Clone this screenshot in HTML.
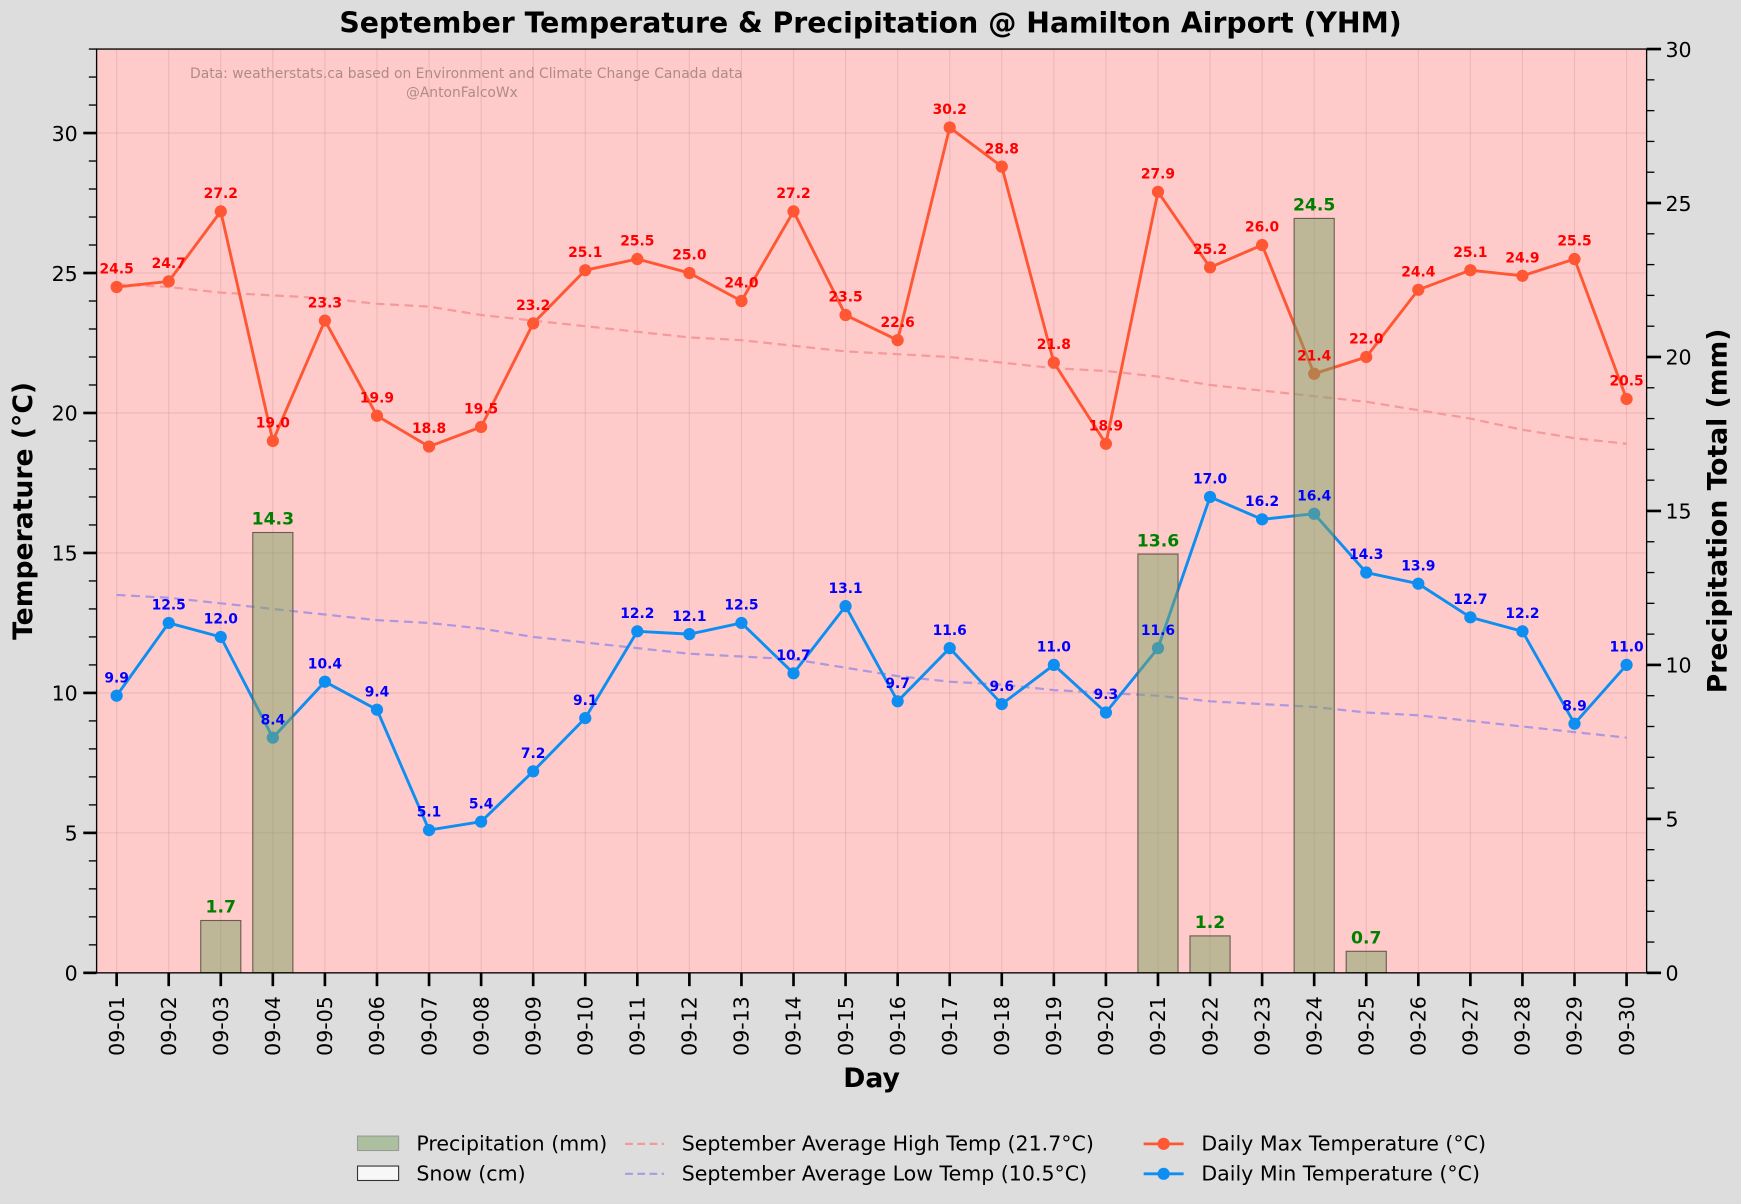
<!DOCTYPE html>
<html><head><meta charset="utf-8"><style>
html,body{margin:0;padding:0;background:#dddddd;}
svg{display:block;font-family:"DejaVu Sans","Liberation Sans",sans-serif;}
</style></head><body>
<svg id="chart" width="1741" height="1204" viewBox="0 0 1568 1084" xmlns="http://www.w3.org/2000/svg">
<rect x="0" y="0" width="1568" height="1084" fill="#dddddd"/>
<text x="784" y="29" text-anchor="middle" font-size="25.5" font-weight="bold">September Temperature &amp; Precipitation @ Hamilton Airport (YHM)</text>
<rect x="87" y="44" width="1396" height="832" fill="#ffcaca"/>
<g id="grid"></g>
<g id="series"></g>
<g id="bars"></g>
<g id="labels"></g>
<text x="420" y="70" text-anchor="middle" font-size="12.5" fill="#b08a8a">Data: weatherstats.ca based on Environment and Climate Change Canada data</text>
<text x="416" y="87" text-anchor="middle" font-size="12.5" fill="#b08a8a">@AntonFalcoWx</text>
<rect x="87" y="44" width="1396" height="832" fill="none" stroke="#000" stroke-width="1.2"/>
<g id="axes"></g>
<text x="785" y="979" text-anchor="middle" font-size="24" font-weight="bold">Day</text>
<text transform="translate(29,460) rotate(-90)" text-anchor="middle" font-size="24" font-weight="bold">Temperature (°C)</text>
<text transform="translate(1555,460) rotate(-90)" text-anchor="middle" font-size="24" font-weight="bold">Precipitation Total (mm)</text>
<g font-size="18.5">
 <g><rect x="322" y="1023" width="37" height="13" fill="#acc0a0" stroke="#999"/><text x="375" y="1036">Precipitation (mm)</text></g>
 <g><rect x="322" y="1050" width="37" height="13" fill="#f7f7f7" stroke="#333"/><text x="375" y="1063">Snow (cm)</text></g>
 <g><line x1="563" y1="1030" x2="598" y2="1030" stroke="#f09a9a" stroke-width="2" stroke-dasharray="7,4"/><text x="614" y="1036">September Average High Temp (21.7°C)</text></g>
 <g><line x1="563" y1="1057" x2="598" y2="1057" stroke="#ad98e0" stroke-width="2" stroke-dasharray="7,4"/><text x="614" y="1063">September Average Low Temp (10.5°C)</text></g>
 <g><line x1="1030" y1="1030" x2="1066" y2="1030" stroke="#ff5733" stroke-width="2.5"/><circle cx="1048" cy="1030" r="5.5" fill="#ff5733"/><text x="1082" y="1036">Daily Max Temperature (°C)</text></g>
 <g><line x1="1030" y1="1057" x2="1066" y2="1057" stroke="#0e8ef0" stroke-width="2.5"/><circle cx="1048" cy="1057" r="5.5" fill="#0e8ef0"/><text x="1082" y="1063">Daily Min Temperature (°C)</text></g>
</g>
</svg>
<script>
const days = ["09-01","09-02","09-03","09-04","09-05","09-06","09-07","09-08","09-09","09-10","09-11","09-12","09-13","09-14","09-15","09-16","09-17","09-18","09-19","09-20","09-21","09-22","09-23","09-24","09-25","09-26","09-27","09-28","09-29","09-30"];
const maxTemps = [24.5,24.7,27.2,19.0,23.3,19.9,18.8,19.5,23.2,25.1,25.5,25.0,24.0,27.2,23.5,22.6,30.2,28.8,21.8,18.9,27.9,25.2,26.0,21.4,22.0,24.4,25.1,24.9,25.5,20.5];
const minTemps = [9.9,12.5,12.0,8.4,10.4,9.4,5.1,5.4,7.2,9.1,12.2,12.1,12.5,10.7,13.1,9.7,11.6,9.6,11.0,9.3,11.6,17.0,16.2,16.4,14.3,13.9,12.7,12.2,8.9,11.0];
const precip = [0,0,1.7,14.3,0,0,0,0,0,0,0,0,0,0,0,0,0,0,0,0,13.6,1.2,0,24.5,0.7,0,0,0,0,0];
const avgHigh = [24.6,24.5,24.3,24.2,24.1,23.9,23.8,23.5,23.3,23.1,22.9,22.7,22.6,22.4,22.2,22.1,22.0,21.8,21.6,21.5,21.3,21.0,20.8,20.6,20.4,20.1,19.8,19.4,19.1,18.9];
const avgLow = [13.5,13.4,13.2,13.0,12.8,12.6,12.5,12.3,12.0,11.8,11.6,11.4,11.3,11.2,10.9,10.6,10.4,10.3,10.1,10.0,9.9,9.7,9.6,9.5,9.3,9.2,9.0,8.8,8.6,8.4];
const tempTicks = [0,5,10,15,20,25,30];
const precipTicks = [0,5,10,15,20,25,30];

const NS="http://www.w3.org/2000/svg";
const L=87,R=1483,T=44,B=876;
const xs=i=>L+(i+0.385)*(R-L)/(days.length-1+0.77);
const yT=v=>B-v*(B-T)/33;
const yP=v=>B-v*(B-T)/30;
function mk(tag,attrs,parent,txt){const e=document.createElementNS(NS,tag);for(const k in attrs)e.setAttribute(k,attrs[k]);if(txt!==undefined)e.textContent=txt;parent.appendChild(e);return e;}
const grid=document.getElementById('grid'),series=document.getElementById('series'),bars=document.getElementById('bars'),labels=document.getElementById('labels'),axes=document.getElementById('axes');
days.forEach((d,i)=>{const g=mk('line',{x1:xs(i),x2:xs(i),y1:T,y2:B,stroke:'#b08080','stroke-opacity':0.25,'stroke-width':1},grid);

});
tempTicks.forEach(v=>{if(v===0)return;const g=mk('line',{x1:L,x2:R,y1:yT(v),y2:yT(v),stroke:'#b08080','stroke-opacity':0.25,'stroke-width':1},grid);

});
function poly(arr,color,dash,w,name){const p=mk('polyline',{points:arr.map((v,i)=>xs(i)+','+yT(v)).join(' '),fill:'none',stroke:color,'stroke-width':w},series);if(dash)p.setAttribute('stroke-dasharray',dash);

return p;}
poly(avgHigh,'#f59a9a','8,5',2,'avg-high-line');
poly(avgLow,'#ad98e0','8,5',2,'avg-low-line');
poly(maxTemps,'#ff5733',null,2.6,'max-temp-line');
poly(minTemps,'#0e8ef0',null,2.6,'min-temp-line');
function pts(arr,color,lc,name){arr.forEach((v,i)=>{const c=mk('circle',{cx:xs(i),cy:yT(v),r:5.5,fill:color},series);


const t=mk('text',{x:xs(i),y:yT(v)-12,'text-anchor':'middle','font-size':12.5,'font-weight':'bold',fill:lc},labels,v.toFixed(1));

});}
pts(maxTemps,'#ff5733','#ff0000','max-temp');
pts(minTemps,'#0e8ef0','#0000ff','min-temp');
const bw=0.77*(R-L)/(days.length-1+0.77);
precip.forEach((v,i)=>{if(v<=0)return;const r=mk('rect',{x:xs(i)-bw/2,y:yP(v),width:bw,height:B-yP(v),fill:'#7ba464','fill-opacity':0.5,stroke:'#6a5a50','stroke-width':1},bars);


const t=mk('text',{x:xs(i),y:yP(v)-7,'text-anchor':'middle','font-size':15.5,'font-weight':'bold',fill:'#008000'},bars,v.toFixed(1));

});
for(let v=0;v<=33;v++){const major=tempTicks.includes(v);mk('line',{x1:major?L-12:L-7,x2:L,y1:yT(v),y2:yT(v),stroke:'#000','stroke-width':major?2.4:1.2},axes);}
tempTicks.forEach(v=>{const t=mk('text',{x:L-17,y:yT(v)+7,'text-anchor':'end','font-size':18.5},axes,String(v));

});
for(let v=0;v<=30;v++){const major=precipTicks.includes(v);mk('line',{x1:R,x2:major?R+13:R+7,y1:yP(v),y2:yP(v),stroke:'#000','stroke-width':major?2.4:1.2},axes);}
precipTicks.forEach(v=>{const t=mk('text',{x:R+17,y:yP(v)+7,'text-anchor':'start','font-size':18.5},axes,String(v));

});
days.forEach((d,i)=>{mk('line',{x1:xs(i),x2:xs(i),y1:B,y2:B+12,stroke:'#000','stroke-width':2.4},axes);
const t=mk('text',{transform:`translate(${xs(i)+6.5},${B+21}) rotate(-90)`,'text-anchor':'end','font-size':18.5},axes,d);

});
</script>
</body></html>
